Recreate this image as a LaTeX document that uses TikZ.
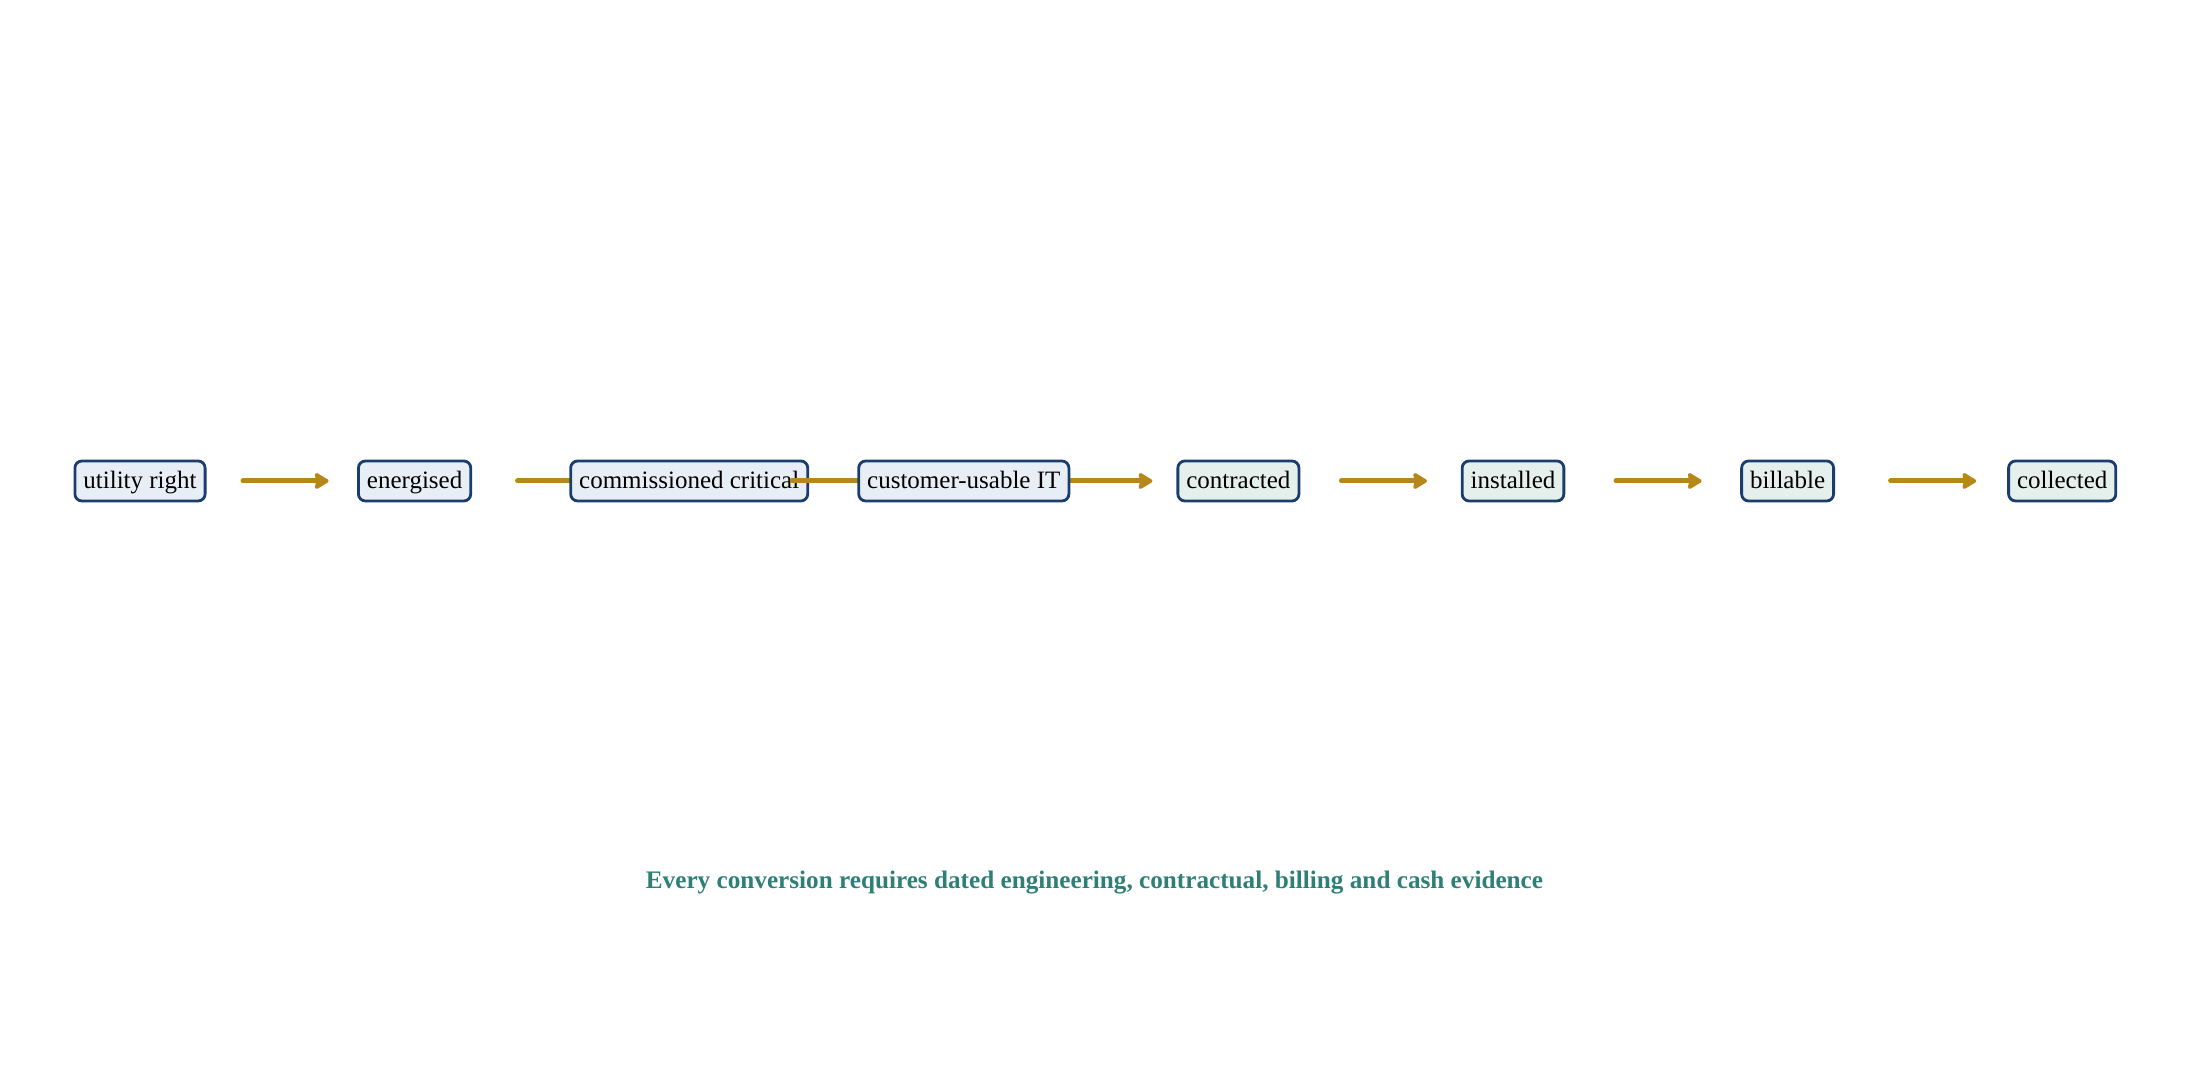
\documentclass[tikz,border=0pt]{standalone}
\usepackage{fontspec}
\setmainfont{Liberation Serif}
\usetikzlibrary{arrows.meta}
\pgfdeclarelayer{bg}
\pgfdeclarelayer{fg}
\pgfsetlayers{bg,main,fg}
\definecolor{boxline}{HTML}{1B3D6D}
\definecolor{bluefill}{HTML}{E8EEF6}
\definecolor{greenfill}{HTML}{E5EFEB}
\definecolor{arrowgold}{HTML}{B8871B}
\definecolor{captionteal}{HTML}{2E7F76}
\tikzset{
  stagebox/.style={draw=boxline, line width=2.8pt, rounded corners=7pt,
    inner xsep=8.5pt, inner ysep=9pt, text height=19pt, text depth=3pt,
    font=\fontsize{25}{30}\selectfont, text=black},
  bluebox/.style={stagebox, fill=bluefill},
  greenbox/.style={stagebox, fill=greenfill},
  flow/.style={draw=arrowgold, line width=5pt, line cap=round,
    -{Stealth[length=16pt,width=19pt,inset=2pt,round]},
    shorten <=103pt, shorten >=86pt},
  caption/.style={font=\fontsize{25.2}{30}\selectfont\bfseries, text=captionteal, anchor=base}
}
\begin{document}
\begin{tikzpicture}[x=1pt,y=1pt]
\useasboundingbox (0,0) rectangle (2189,1089);
\node[bluebox] (n1) at (140,608) {utility right};
\node[bluebox] (n2) at (414.6,608) {energised};
\node[bluebox] (n3) at (689.2,608) {commissioned critical};
\begin{pgfonlayer}{fg}
\node[bluebox] (n4) at (963.8,608) {customer-usable IT};
\end{pgfonlayer}
\node[greenbox] (n5) at (1238.4,608) {contracted};
\node[greenbox] (n6) at (1513,608) {installed};
\node[greenbox] (n7) at (1787.6,608) {billable};
\node[greenbox] (n8) at (2062.2,608) {collected};
\draw[flow] (n1.center) -- (n2.center);
\begin{pgfonlayer}{bg}
\draw[flow] (n2.center) -- (n3.center);
\end{pgfonlayer}
\draw[flow] (n3.center) -- (n4.center);
\draw[flow] (n4.center) -- (n5.center);
\draw[flow] (n5.center) -- (n6.center);
\draw[flow] (n6.center) -- (n7.center);
\draw[flow] (n7.center) -- (n8.center);
\node[caption] (cap) at (1094.5,200) {Every conversion requires dated engineering, contractual, billing and cash evidence};
\end{tikzpicture}
\end{document}
